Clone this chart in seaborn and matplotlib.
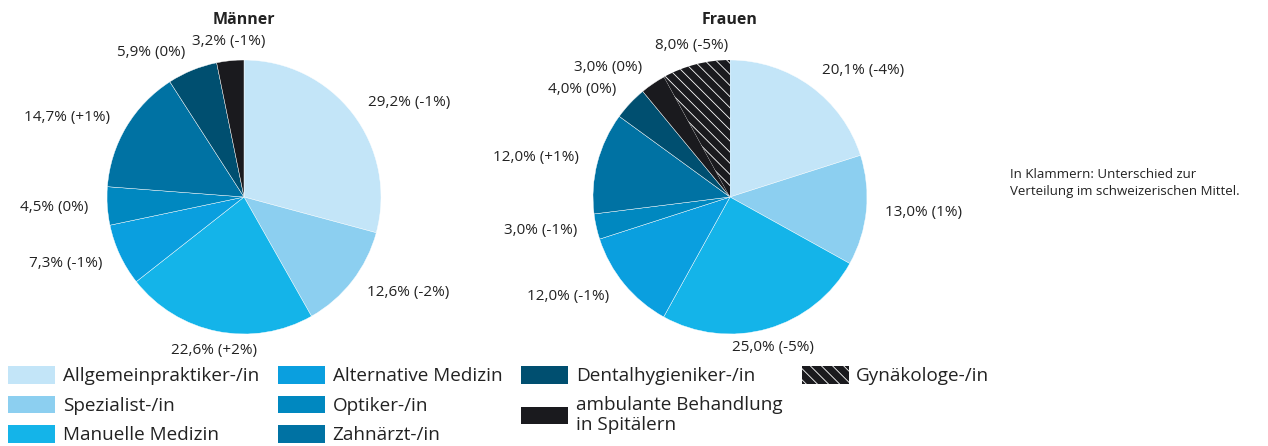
import matplotlib
matplotlib.use("Agg")
import matplotlib.pyplot as plt
from matplotlib.patches import Patch
import seaborn as sns
import numpy as np

# Kategorien und Anteile (in %), Unterschied zum schweizerischen Mittel in Klammern
categories = [
    "Allgemeinpraktiker-/in",
    "Spezialist-/in",
    "Manuelle Medizin",
    "Alternative Medizin",
    "Optiker-/in",
    "Zahnärzt-/in",
    "Dentalhygieniker-/in",
    "ambulante Behandlung\nin Spitälern",
    "Gynäkologe-/in",
]
maenner_share = [29.2, 12.6, 22.6, 7.3, 4.5, 14.7, 5.9, 3.2]
maenner_diff = ["-1%", "-2%", "+2%", "-1%", "0%", "+1%", "0%", "-1%"]
frauen_share = [20.1, 13.0, 25.0, 12.0, 3.0, 12.0, 4.0, 3.0, 8.0]
frauen_diff = ["-4%", "1%", "-5%", "-1%", "-1%", "+1%", "0%", "0%", "-5%"]
titles = ["Männer", "Frauen"]
note = "In Klammern: Unterschied zur\nVerteilung im schweizerischen Mittel."

sns.set_theme(style="white")
plt.rcParams["font.family"] = ["Open Sans", "DejaVu Sans"]
plt.rcParams["hatch.linewidth"] = 0.6

palette = sns.color_palette([
    "#c3e5f8", "#8ccff0", "#14b4e9", "#0a9fdf", "#0088c0",
    "#0072a3", "#004f70", "#1a1a1e", "#1a1a1e",
])
hatches = [None] * 8 + ["\\\\\\"]

W, H = 1268, 446
fig = plt.figure(figsize=(W / 100, H / 100), dpi=100)

radius_px = 137
centers_px = [(244, 197), (730, 197)]


def fmt(v, d):
    return f"{v:.1f}".replace(".", ",") + f"% ({d})"


for (cx, cy), title, shares, diffs in zip(
    centers_px, titles, [maenner_share, frauen_share], [maenner_diff, frauen_diff]
):
    ax = fig.add_axes([
        (cx - radius_px) / W, 1 - (cy + radius_px) / H,
        2 * radius_px / W, 2 * radius_px / H,
    ])
    n = len(shares)
    labels = [fmt(v, d) for v, d in zip(shares, diffs)]
    wedges, texts = ax.pie(
        shares,
        labels=labels,
        colors=palette[:n],
        startangle=90,
        counterclock=False,
        labeldistance=1.14,
        wedgeprops=dict(edgecolor="white", linewidth=0.3),
        textprops=dict(fontsize=11, color="#222222"),
    )
    for w, h in zip(wedges, hatches[:n]):
        if h:
            w.set_hatch(h)
            w.set_linewidth(0)
    for t in texts:
        x, y = t.get_position()
        r = np.hypot(x, y)
        if abs(x / r) < 0.3:
            t.set_ha("center")
    ax.set_xlim(-1, 1)
    ax.set_ylim(-1, 1)
    ax.set_axis_off()
    fig.text(cx / W, 1 - 20 / H, title, ha="center", va="center",
             fontsize=11.5, fontweight="bold", color="#222222")

fig.text(1010 / W, 1 - 183 / H, note, ha="left", va="center",
         fontsize=9.5, color="#222222", linespacing=1.3)

# Legende: vier Spalten, spaltenweise gefüllt
blank = Patch(facecolor="none", edgecolor="none")
handles = [Patch(facecolor=palette[i], edgecolor="white" if hatches[i] else palette[i],
                 hatch=hatches[i], linewidth=0) for i in range(len(categories))]
leg_handles = handles[0:3] + handles[3:6] + handles[6:8] + [blank] + [handles[8], blank, blank]
leg_labels = categories[0:3] + categories[3:6] + categories[6:8] + [""] + [categories[8], "", ""]
fig.legend(
    leg_handles, leg_labels,
    loc="upper left", bbox_to_anchor=(8 / W, 1 - 366 / H),
    ncol=4, frameon=False, fontsize=13.6,
    handlelength=2.5, handleheight=1.05, handletextpad=0.4,
    labelspacing=0.55, columnspacing=1.0, borderpad=0, borderaxespad=0,
    labelcolor="#222222",
)

fig.savefig("out.png", dpi=100)
